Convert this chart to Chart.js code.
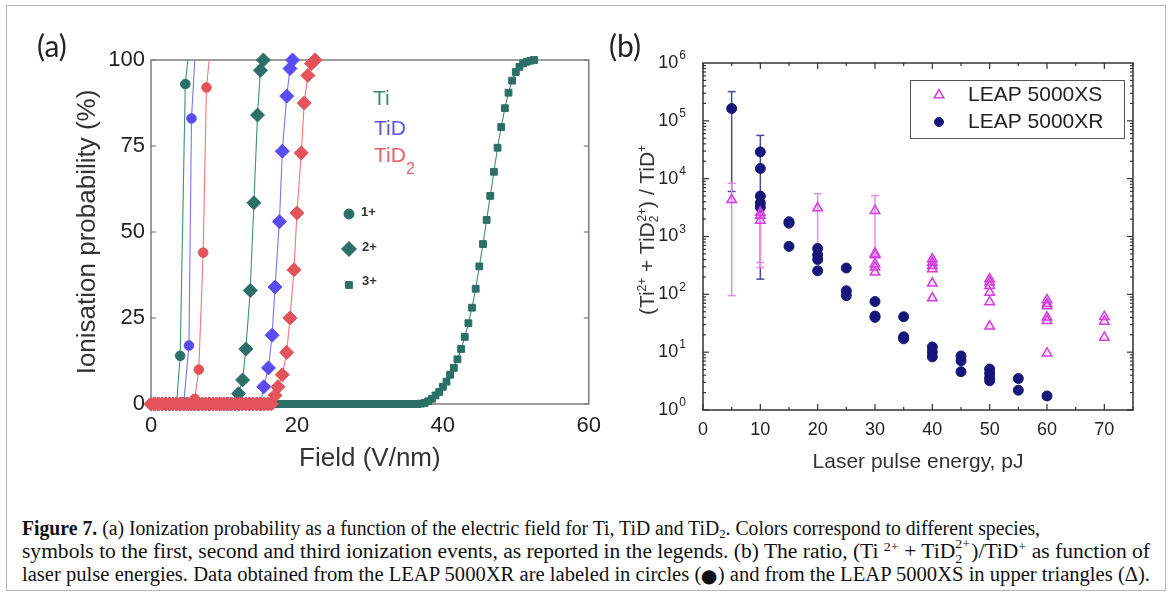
<!DOCTYPE html>
<html>
<head>
<meta charset="utf-8">
<script src="https://cdn.jsdelivr.net/npm/chart.js@4.4.0/dist/chart.umd.min.js"></script>
<style>
  body { margin: 0; width: 1171px; height: 596px; background: #fff; position: relative; overflow: hidden;
         font-family: 'Liberation Sans', Arial, sans-serif; }
  #frame { position: absolute; left: 6px; top: 5px; width: 1158px; height: 584px; border: 1px solid #b5b5b5; }
  #cvA { position: absolute; left: 0; top: 0; }
  #cvB { position: absolute; left: 600px; top: 0; }
  .lbl { position: absolute; white-space: nowrap; line-height: 24px; }
  .panel { font-family: Lato, 'Open Sans', sans-serif; font-size: 30px; color: #222; }
  .ytitle { position: absolute; white-space: nowrap; font-size: 21px; color: #333; transform: translate(-50%, -50%) rotate(-90deg); }
  .ytitle sup { font-size: 12px; vertical-align: 8px; line-height: 0; }
  .ytitle sub { font-size: 12px; vertical-align: -4px; line-height: 0; }
  .ln { position: absolute; left: 22px; white-space: nowrap; font-family: 'Liberation Serif', 'DejaVu Serif', serif;
        font-size: 20px; line-height: 22px; color: #111; transform-origin: 0 50%; }
  .ln sub, .ln sup { font-size: 13px; line-height: 0; }
  .ln sup { vertical-align: 7px; }
  .ln sub { vertical-align: -3px; }
  .ss { position: relative; display: inline-block; width: 15px; height: 1px; }
  .ss span { position: absolute; left: 0; font-size: 13px; line-height: 13px; }
  .ss .u { top: -20px; }
  .ss .d { top: -5px; }
</style>
</head>
<body>
<div id="frame"></div>
<canvas id="cvA" width="610" height="480"></canvas>
<canvas id="cvB" width="571" height="480"></canvas>

<div class="lbl panel" style="left:37px;top:33px">(a)</div>
<div class="lbl panel" style="left:609px;top:33px">(b)</div>

<div class="lbl" style="left:373px;top:86px;font-size:21px;color:#3b8a71">Ti</div>
<div class="lbl" style="left:374px;top:116px;font-size:21px;color:#5b54ee">TiD</div>
<div class="lbl" style="left:374px;top:143px;font-size:21px;color:#e2626a">TiD<span style="font-size:16px;vertical-align:-12px">2</span></div>
<div class="lbl" style="left:361px;top:200px;font-size:13px;font-weight:bold;color:#333">1+</div>
<div class="lbl" style="left:362px;top:235px;font-size:13px;font-weight:bold;color:#333">2+</div>
<div class="lbl" style="left:362px;top:269px;font-size:13px;font-weight:bold;color:#333">3+</div>

<div class="ytitle" style="left:647px;top:230px">(Ti<sup>2+</sup> + TiD<sub>2</sub><sup style="margin-left:-6px">2+</sup>) / TiD<sup>+</sup></div>

<div class="ln" id="l1" data-w="1018" style="top:517px"><b>Figure 7.</b> (a) Ionization probability as a function of the electric field for Ti, TiD and TiD<sub>2</sub>. Colors correspond to different species,</div>
<div class="ln" id="l2" data-w="1128" style="top:540px">symbols to the first, second and third ionization events, as reported in the legends. (b) The ratio, (Ti <sup>2+</sup> + TiD<span class="ss"><span class="u">2+</span><span class="d">2</span></span>)/TiD<sup>+</sup> as function of</div>
<div class="ln" id="l3" data-w="1128" style="top:563px">laser pulse energies. Data obtained from the LEAP 5000XR are labeled in circles (<span style="font-size:14px;line-height:0">⬤</span>) and from the LEAP 5000XS in upper triangles (Δ).</div>

<script>
// ---- panel (a): ionisation probability vs field ----
const fieldTi1 = [0, 0.5, 1, 1.5, 2, 2.5, 3, 3.5, 4.0, 4.7, 5.05];
const probTi1 = [0, 0, 0, 0, 0, 0, 0, 0, 14, 93, 100];

const fieldTiD1 = [0, 0.5, 1, 1.5, 2, 2.5, 3, 3.5, 4, 4.5, 5.2, 5.55, 6.0];
const probTiD1 = [0, 0, 0, 0, 0, 0, 0, 0, 0, 0.5, 17, 83, 100];

const fieldTiD2_1 = [0, 0.5, 1, 1.5, 2, 2.5, 3, 3.5, 4, 4.5, 5, 5.5, 6, 6.55, 7.15, 7.6, 7.97];
const probTiD2_1 = [0, 0, 0, 0, 0, 0, 0, 0, 0, 0, 0, 0, 1.5, 10, 44, 92, 100];

const fieldTi2 = [0, 0.5, 1, 1.5, 2, 2.5, 3, 3.5, 4, 4.5, 5, 5.5, 6, 6.5, 7, 7.5, 8, 8.5, 9, 9.5, 10, 10.5, 11, 11.5,
                  12.0, 12.55, 13.0, 13.6, 14.1, 14.6, 15.0, 15.4];
const probTi2 = [0, 0, 0, 0, 0, 0, 0, 0, 0, 0, 0, 0, 0, 0, 0, 0, 0, 0, 0, 0, 0, 0, 0, 0,
                 3, 7, 16, 33, 58.5, 84, 97, 100];

const fieldTiD2 = [0, 0.5, 1, 1.5, 2, 2.5, 3, 3.5, 4, 4.5, 5, 5.5, 6, 6.5, 7, 7.5, 8, 8.5, 9, 9.5, 10, 10.5, 11, 11.5,
                   12, 12.5, 13, 13.5, 14, 14.5, 15, 15.45, 16.1, 16.6, 17.0, 17.6, 18.0, 18.6, 19.05, 19.4];
const probTiD2 = [0, 0, 0, 0, 0, 0, 0, 0, 0, 0, 0, 0, 0, 0, 0, 0, 0, 0, 0, 0, 0, 0, 0, 0,
                  0, 0, 0, 0, 0, 0, 0, 5, 10.5, 20, 34, 53, 73.5, 89.5, 97.5, 100];

const fieldTiD2_2 = [0, 0.5, 1, 1.5, 2, 2.5, 3, 3.5, 4, 4.5, 5, 5.5, 6, 6.5, 7, 7.5, 8, 8.5, 9, 9.5, 10, 10.5, 11, 11.5,
                     12, 12.5, 13, 13.5, 14, 14.5, 15, 15.5, 16, 16.5,
                     17.0, 17.4, 18.0, 18.6, 19.05, 19.6, 20.0, 20.6, 21.0, 21.5, 22.0, 22.5];
const probTiD2_2 = [0, 0, 0, 0, 0, 0, 0, 0, 0, 0, 0, 0, 0, 0, 0, 0, 0, 0, 0, 0, 0, 0, 0, 0,
                    0, 0, 0, 0, 0, 0, 0, 0, 0, 0,
                    2.5, 5, 8.5, 15, 25, 39, 55.5, 73, 87.5, 95.5, 99, 100];

const fieldTi3 = [0, 0.5, 1, 1.5, 2, 2.5, 3, 3.5, 4, 4.5, 5, 5.5, 6, 6.5, 7, 7.5, 8, 8.5, 9, 9.5,
                  10, 10.5, 11, 11.5, 12, 12.5, 13, 13.5, 14, 14.5, 15, 15.5, 16, 16.5, 17, 17.5, 18, 18.5, 19, 19.5,
                  20, 20.5, 21, 21.5, 22, 22.5, 23, 23.5, 24, 24.5, 25, 25.5, 26, 26.5, 27, 27.5, 28, 28.5, 29, 29.5,
                  30, 30.5, 31, 31.5, 32, 32.5, 33, 33.5, 34, 34.5, 35, 35.5, 36, 36.5, 37,
                  37.5, 38, 38.5, 39, 39.5, 40, 40.5, 41, 41.5, 42, 42.5, 43, 43.5, 44, 44.5, 45, 45.5,
                  46, 46.5, 47, 47.5, 48, 48.5, 49, 49.5, 50, 50.5, 51, 51.5, 52, 52.5];
const probTi3 = [0, 0, 0, 0, 0, 0, 0, 0, 0, 0, 0, 0, 0, 0, 0, 0, 0, 0, 0, 0,
                 0, 0, 0, 0, 0, 0, 0, 0, 0, 0, 0, 0, 0, 0, 0, 0, 0, 0, 0, 0,
                 0, 0, 0, 0, 0, 0, 0, 0, 0, 0, 0, 0, 0, 0, 0, 0, 0, 0, 0, 0,
                 0, 0, 0, 0, 0, 0, 0, 0, 0, 0, 0, 0, 0, 0, 0.1,
                 0.3, 0.8, 1.5, 2.5, 3.5, 5, 6.5, 8.5, 10.5, 13, 16, 19.5, 23.5, 28, 33.5, 40, 46.5,
                 53.5, 60.5, 67.5, 74.5, 80.5, 86, 90.5, 94, 96.5, 98, 99, 99.5, 99.8, 100];

const fieldTicksA = [0, 20, 40, 60];
const probTicksA = [0, 25, 50, 75, 100];

// ---- panel (b): (Ti2+ + TiD2 2+)/TiD+ vs laser pulse energy ----
const energyXS = [5, 10, 10, 10, 20, 30, 30, 30, 30, 30, 30, 40, 40, 40, 40, 40, 40,
                  50, 50, 50, 50, 50, 50, 60, 60, 60, 60, 60, 60, 70, 70, 70];
const ratioXS = [4300, 2600, 2300, 1900, 3100, 2800, 510, 480, 335, 293, 240, 408, 355, 312, 275, 155, 86,
                 184, 162, 141, 108, 74, 28, 80, 69, 63, 40, 35, 9.6, 41, 34, 18];
const errLowXS = [95, null, 290, 356, 700, 500, null, null, null, null, null, null, null, null, null, null, null,
                  null, null, null, null, null, null, null, null, null, null, null, null, null, null, null];
const errHighXS = [8300, null, 4300, 3500, 5500, 5100, null, null, null, null, null, null, null, null, null, null, null,
                   null, null, null, null, null, null, null, null, null, null, null, null, null, null, null];

const energyXR = [5, 10, 10, 10, 10, 10, 15, 15, 15, 20, 20, 20, 20, 25, 25, 25, 30, 30, 30,
                  35, 35, 35, 40, 40, 40, 45, 45, 45, 50, 50, 50, 50, 55, 55, 60];
const ratioXR = [163000, 29000, 15000, 5000, 3800, 3200, 1800, 1700, 675, 620, 480, 400, 255, 285, 115, 95, 75, 42, 40,
                 41, 18.4, 17, 12.3, 10.1, 8.3, 8.6, 7.1, 4.6, 5.1, 4.3, 3.6, 3.2, 3.5, 2.2, 1.75];
const errLowXR = [6000, 183, null, null, null, null, null, null, null, null, null, null, null, null, null, null, null, null, null,
                  null, null, null, null, null, null, null, null, null, null, null, null, null, null, null, null];
const errHighXR = [320000, 56000, null, null, null, null, null, null, null, null, null, null, null, null, null, null, null, null, null,
                   null, null, null, null, null, null, null, null, null, null, null, null, null, null, null, null];

const energyTicksB = [0, 10, 20, 30, 40, 50, 60, 70];
const decadesB = [0, 1, 2, 3, 4, 5, 6];

Chart.defaults.font.family = "'Liberation Sans', Arial, sans-serif";
Chart.defaults.animation = false;

const TEAL = '#2b6f66', TEAL_L = '#3f8f7b';
const BLUE = '#5a4cf2', BLUE_L = '#7c74f4';
const RED = '#e4535a', RED_L = '#ef7778';
const NAVY = '#16167a', MAG = '#d23fdc';

function pts(xs, ys) { return xs.map((x, i) => ({ x: x, y: ys[i] })); }

function curve(xs, ys, color, lineColor, style, r, hideLast) {
  return {
    data: pts(xs, ys), showLine: true, tension: 0, clip: false,
    borderColor: lineColor, borderWidth: 1.1,
    pointStyle: style, pointBackgroundColor: color, pointBorderColor: color, pointBorderWidth: 1,
    pointRadius: xs.map((x, i) => (hideLast && i === xs.length - 1) ? 0 : r)
  };
}

function line(ctx, x1, y1, x2, y2) { ctx.beginPath(); ctx.moveTo(x1, y1); ctx.lineTo(x2, y2); ctx.stroke(); }

const frameA = {
  id: 'frameA',
  beforeDatasetsDraw(chart) {
    const { ctx, chartArea: a, scales: { y } } = chart;
    ctx.save();
    ctx.strokeStyle = '#7d7d7d'; ctx.lineWidth = 1.5;
    ctx.strokeRect(a.left, a.top, a.right - a.left, a.bottom - a.top);
    ctx.lineWidth = 1.2;
    probTicksA.forEach(v => {
      const py = y.getPixelForValue(v);
      line(ctx, a.left, py, a.left + 5, py);
      line(ctx, a.right, py, a.right - 5, py);
    });
    ctx.restore();
  },
  afterDraw(chart) {
    const { ctx, chartArea: a } = chart;
    const sym = [['circle', 5, 154], ['rectRot', 7.5, 189], ['rect', 4.8, 225]];
    ctx.save();
    ctx.fillStyle = TEAL; ctx.strokeStyle = TEAL;
    sym.forEach(s => {
      Chart.helpers.drawPoint(ctx, { pointStyle: s[0], radius: s[1], borderWidth: 1, rotation: 0 }, a.left + 198, a.top + s[2]);
    });
    ctx.restore();
  }
};

new Chart(document.getElementById('cvA'), {
  type: 'scatter',
  data: {
    datasets: [
      curve(fieldTiD2_2, probTiD2_2, RED, RED_L, 'rectRot', 7, false),
      curve(fieldTiD2_1, probTiD2_1, RED, RED_L, 'circle', 4.8, true),
      curve(fieldTiD2, probTiD2, BLUE, BLUE_L, 'rectRot', 7, false),
      curve(fieldTiD1, probTiD1, BLUE, BLUE_L, 'circle', 4.8, true),
      curve(fieldTi2, probTi2, TEAL, TEAL_L, 'rectRot', 7, false),
      curve(fieldTi1, probTi1, TEAL, TEAL_L, 'circle', 4.8, true),
      curve(fieldTi3, probTi3, TEAL, TEAL_L, 'rect', 4.8, false)
    ]
  },
  options: {
    responsive: false,
    devicePixelRatio: 1,
    layout: { padding: { top: 60, right: 15, left: 0, bottom: 0 } },
    plugins: { legend: { display: false }, tooltip: { enabled: false } },
    scales: {
      x: {
        type: 'linear', min: 0, max: 60,
        afterBuildTicks: s => { s.ticks = fieldTicksA.map(v => ({ value: v })); },
        ticks: { padding: 9, color: '#222', font: { size: 22 } },
        grid: { display: false, drawTicks: false }, border: { display: false },
        title: { display: true, text: 'Field (V/nm)', color: '#333', font: { size: 26 }, padding: { top: 0, bottom: 6 } },
        afterFit: s => { s.height = 76; }
      },
      y: {
        type: 'linear', min: 0, max: 100,
        afterBuildTicks: s => { s.ticks = probTicksA.map(v => ({ value: v })); },
        ticks: { padding: 6, color: '#222', font: { size: 22 } },
        grid: { display: false, drawTicks: false }, border: { display: false },
        title: { display: true, text: 'Ionisation probability (%)', color: '#333', font: { size: 26 }, padding: { top: 72, bottom: 0 } },
        afterFit: s => { s.width = 151; }
      }
    }
  },
  plugins: [frameA]
});

function errBars(ctx, xs, ys, xv, lo, hi, color) {
  ctx.save();
  ctx.strokeStyle = color; ctx.lineWidth = 1.5;
  xv.forEach((v, i) => {
    if (lo[i] == null) return;
    const px = xs.getPixelForValue(v);
    const p1 = ys.getPixelForValue(lo[i]), p2 = ys.getPixelForValue(hi[i]);
    line(ctx, px, p1, px, p2);
    line(ctx, px - 4, p1, px + 4, p1);
    line(ctx, px - 4, p2, px + 4, p2);
  });
  ctx.restore();
}

const frameB = {
  id: 'frameB',
  beforeDatasetsDraw(chart) {
    const { ctx, chartArea: a, scales: { x, y } } = chart;
    ctx.save();
    ctx.strokeStyle = '#333'; ctx.lineWidth = 1.5;
    ctx.strokeRect(a.left, a.top, a.right - a.left, a.bottom - a.top);
    ctx.lineWidth = 1.2;
    for (let v = 0; v <= 75; v += 5) {
      const px = x.getPixelForValue(v), len = v % 10 === 0 ? 6 : 3;
      line(ctx, px, a.bottom, px, a.bottom - len);
      line(ctx, px, a.top, px, a.top + len);
    }
    for (let e = 0; e < 6; e++) {
      for (let m = 1; m < 10; m++) {
        const py = y.getPixelForValue(m * Math.pow(10, e)), len = m === 1 ? 6 : 3;
        line(ctx, a.left, py, a.left + len, py);
        line(ctx, a.right, py, a.right - len, py);
      }
    }
    ctx.restore();
    errBars(ctx, x, y, energyXR, errLowXR, errHighXR, '#4a4a98');
    errBars(ctx, x, y, energyXS, errLowXS, errHighXS, '#e38be9');
  },
  afterDraw(chart) {
    const { ctx, chartArea: a, scales: { y } } = chart;
    ctx.save();
    ctx.fillStyle = '#222';
    ctx.textBaseline = 'middle'; ctx.textAlign = 'right';
    decadesB.forEach(e => {
      const py = y.getPixelForValue(Math.pow(10, e));
      ctx.font = "12px 'Liberation Sans', Arial, sans-serif";
      ctx.fillText(String(e), a.left - 17, py - 7);
      const w = ctx.measureText(String(e)).width;
      ctx.font = "18px 'Liberation Sans', Arial, sans-serif";
      ctx.fillText('10', a.left - 18 - w, py);
    });
    // legend box
    const bx = a.right - 223, by = a.top + 17, bw = 214, bh = 58;
    ctx.fillStyle = '#fff'; ctx.fillRect(bx, by, bw, bh);
    ctx.strokeStyle = '#555'; ctx.lineWidth = 1; ctx.strokeRect(bx + 0.5, by + 0.5, bw, bh);
    ctx.fillStyle = 'rgba(255,255,255,1)'; ctx.strokeStyle = MAG; ctx.lineWidth = 1.5;
    Chart.helpers.drawPoint(ctx, { pointStyle: 'triangle', radius: 5.5, borderWidth: 1.5, rotation: 0 }, bx + 29, by + 15);
    ctx.fillStyle = NAVY; ctx.strokeStyle = NAVY; ctx.lineWidth = 1;
    Chart.helpers.drawPoint(ctx, { pointStyle: 'circle', radius: 4.5, borderWidth: 1, rotation: 0 }, bx + 29, by + 42);
    ctx.fillStyle = '#222'; ctx.textAlign = 'left';
    ctx.font = "21px 'Liberation Sans', Arial, sans-serif";
    ctx.fillText('LEAP 5000XS', bx + 58, by + 15);
    ctx.fillText('LEAP 5000XR', bx + 58, by + 42);
    ctx.restore();
  }
};

new Chart(document.getElementById('cvB'), {
  type: 'scatter',
  data: {
    datasets: [
      { label: 'LEAP 5000XS', data: pts(energyXS, ratioXS), pointStyle: 'triangle', pointRadius: 5.5,
        pointBorderWidth: 1.5, pointBorderColor: MAG, pointBackgroundColor: 'rgba(230,130,240,0.25)', clip: false },
      { label: 'LEAP 5000XR', data: pts(energyXR, ratioXR), pointStyle: 'circle', pointRadius: 5,
        pointBorderWidth: 1, pointBorderColor: NAVY, pointBackgroundColor: NAVY, clip: false }
    ]
  },
  options: {
    responsive: false,
    devicePixelRatio: 1,
    layout: { padding: { top: 63, right: 38, left: 0, bottom: 0 } },
    plugins: { legend: { display: false }, tooltip: { enabled: false } },
    scales: {
      x: {
        type: 'linear', min: 0, max: 75,
        afterBuildTicks: s => { s.ticks = energyTicksB.map(v => ({ value: v })); },
        ticks: { padding: 9, color: '#222', font: { size: 18 } },
        grid: { display: false, drawTicks: false }, border: { display: false },
        title: { display: true, text: 'Laser pulse energy, pJ', color: '#333', font: { size: 21 }, padding: { top: 0, bottom: 5 } },
        afterFit: s => { s.height = 70; }
      },
      y: {
        type: 'logarithmic', min: 1, max: 1e6,
        ticks: { display: false },
        grid: { display: false, drawTicks: false }, border: { display: false },
        afterFit: s => { s.width = 103; }
      }
    }
  },
  plugins: [frameB]
});

// fit caption lines to the widths they occupy in the figure
document.querySelectorAll('.ln').forEach(el => {
  const w = el.getBoundingClientRect().width;
  el.style.transform = 'scaleX(' + (parseFloat(el.dataset.w) / w) + ')';
});
</script>
</body>
</html>
